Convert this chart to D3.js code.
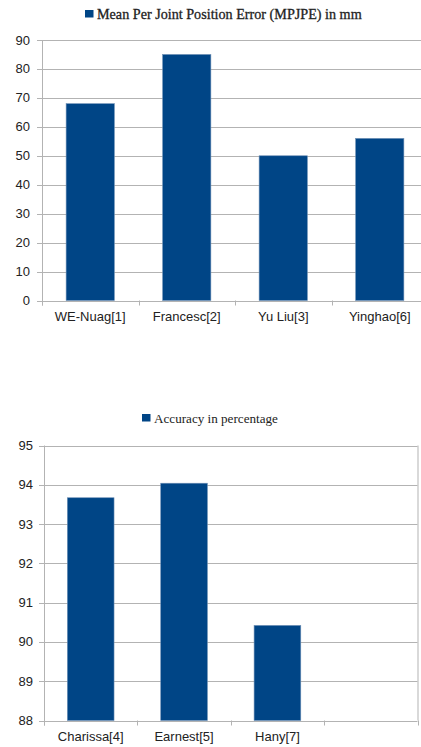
<!DOCTYPE html>
<html>
<head>
<meta charset="utf-8">
<script src="https://cdn.jsdelivr.net/npm/d3@7"></script>
<style>
  body { margin: 0; background: #fff; }
  svg { display: block; }
</style>
</head>
<body>
<div id="chart"></div>
<script>
const errNames = ['WE-Nuag[1]', 'Francesc[2]', 'Yu Liu[3]', 'Yinghao[6]'];
const errValues = [68, 85, 50, 56];
const errTicks = [0, 10, 20, 30, 40, 50, 60, 70, 80, 90];

const accNames = ['Charissa[4]', 'Earnest[5]', 'Hany[7]', ''];
const accValues = [93.67, 94.04, 90.42, null];
const accTicks = [88, 89, 90, 91, 92, 93, 94, 95];

const width = 421;
const height = 747;
const barColor = '#004586';
const gridColor = '#b3b3b3';

const svg = d3.select('#chart')
  .append('svg')
  .attr('width', width)
  .attr('height', height)
  .attr('viewBox', [0, 0, width, height]);

function drawChart(cfg) {
  const g = svg.append('g');

  const x = d3.scaleBand()
    .domain(cfg.names.map((d, i) => i))
    .range([cfg.left, cfg.right])
    .paddingInner(0)
    .paddingOuter(0);

  const y = d3.scaleLinear()
    .domain(d3.extent(cfg.ticks))
    .range([cfg.bottom, cfg.top]);

  // legend
  const legend = g.append('g');
  legend.append('rect')
    .attr('x', cfg.legendX)
    .attr('y', cfg.legendY - 4)
    .attr('width', 8.5)
    .attr('height', 7.5)
    .attr('fill', barColor);
  const title = legend.append('text')
    .attr('x', cfg.legendX + 12)
    .attr('y', cfg.legendY)
    .attr('dy', '0.35em')
    .attr('font-family', 'Liberation Serif, serif')
    .attr('font-size', 13)
    .attr('fill', '#222')
    .attr('stroke', '#222')
    .attr('stroke-width', cfg.legendWeight)
    .text(cfg.title);
  // scale the font so the title spans the same width as in the original
  const w = title.node().getComputedTextLength();
  title.attr('font-size', 13 * cfg.legendWidth / w);

  // horizontal grid
  g.selectAll('.grid')
    .data(cfg.ticks)
    .enter()
    .append('line')
    .attr('x1', cfg.left)
    .attr('x2', cfg.right)
    .attr('y1', d => Math.round(y(d)) + 0.5)
    .attr('y2', d => Math.round(y(d)) + 0.5)
    .attr('stroke', gridColor)
    .attr('stroke-width', 1);

  if (cfg.rightBorder) {
    g.append('line')
      .attr('x1', cfg.right + 0.5).attr('x2', cfg.right + 0.5)
      .attr('y1', cfg.top).attr('y2', cfg.bottom)
      .attr('stroke', gridColor);
  }

  // y axis
  g.append('line')
    .attr('x1', cfg.left + 0.5).attr('x2', cfg.left + 0.5)
    .attr('y1', cfg.top).attr('y2', cfg.bottom + 5)
    .attr('stroke', gridColor);
  g.selectAll('.ytick')
    .data(cfg.ticks)
    .enter()
    .append('line')
    .attr('x1', cfg.left - 5)
    .attr('x2', cfg.left)
    .attr('y1', d => Math.round(y(d)) + 0.5)
    .attr('y2', d => Math.round(y(d)) + 0.5)
    .attr('stroke', gridColor);
  g.selectAll('.ylabel')
    .data(cfg.ticks)
    .enter()
    .append('text')
    .attr('x', cfg.labelRight)
    .attr('y', d => y(d))
    .attr('dy', '0.35em')
    .attr('text-anchor', 'end')
    .attr('font-family', 'Liberation Sans, Arial, sans-serif')
    .attr('font-size', 13)
    .attr('fill', '#222')
    .text(d => d);

  // x axis ticks
  const bounds = cfg.names.map((d, i) => x(i)).concat([cfg.right]);
  g.selectAll('.xtick')
    .data(bounds)
    .enter()
    .append('line')
    .attr('x1', d => Math.round(d) + 0.5)
    .attr('x2', d => Math.round(d) + 0.5)
    .attr('y1', cfg.bottom)
    .attr('y2', cfg.bottom + 5)
    .attr('stroke', gridColor);

  // bars
  g.selectAll('.bar')
    .data(cfg.values.map((v, i) => ({ v, i })).filter(d => d.v != null))
    .enter()
    .append('rect')
    .attr('x', d => x(d.i) + x.bandwidth() / 4)
    .attr('width', x.bandwidth() / 2)
    .attr('y', d => y(d.v))
    .attr('height', d => y(y.domain()[0]) - y(d.v))
    .attr('fill', barColor)
    .attr('stroke', '#6d8fb5')
    .attr('stroke-width', 0.6);

  // x labels
  g.selectAll('.xlabel')
    .data(cfg.names)
    .enter()
    .append('text')
    .attr('x', (d, i) => x(i) + x.bandwidth() / 2)
    .attr('y', cfg.bottom + 16)
    .attr('dy', '0.35em')
    .attr('text-anchor', 'middle')
    .attr('font-family', 'Liberation Sans, Arial, sans-serif')
    .attr('font-size', 13)
    .attr('fill', '#222')
    .text(d => d);
}

drawChart({
  names: errNames, values: errValues, ticks: errTicks,
  title: 'Mean Per Joint Position Error (MPJPE) in mm',
  left: 42, right: 428, top: 40, bottom: 300.5,
  labelRight: 30, legendX: 85, legendY: 14, rightBorder: false,
  legendWidth: 265, legendWeight: 0.3
});

drawChart({
  names: accNames, values: accValues, ticks: accTicks,
  title: 'Accuracy in percentage',
  left: 44, right: 417.5, top: 445.5, bottom: 720.5,
  labelRight: 33, legendX: 142, legendY: 418, rightBorder: true,
  legendWidth: 124, legendWeight: 0
});
</script>
</body>
</html>
